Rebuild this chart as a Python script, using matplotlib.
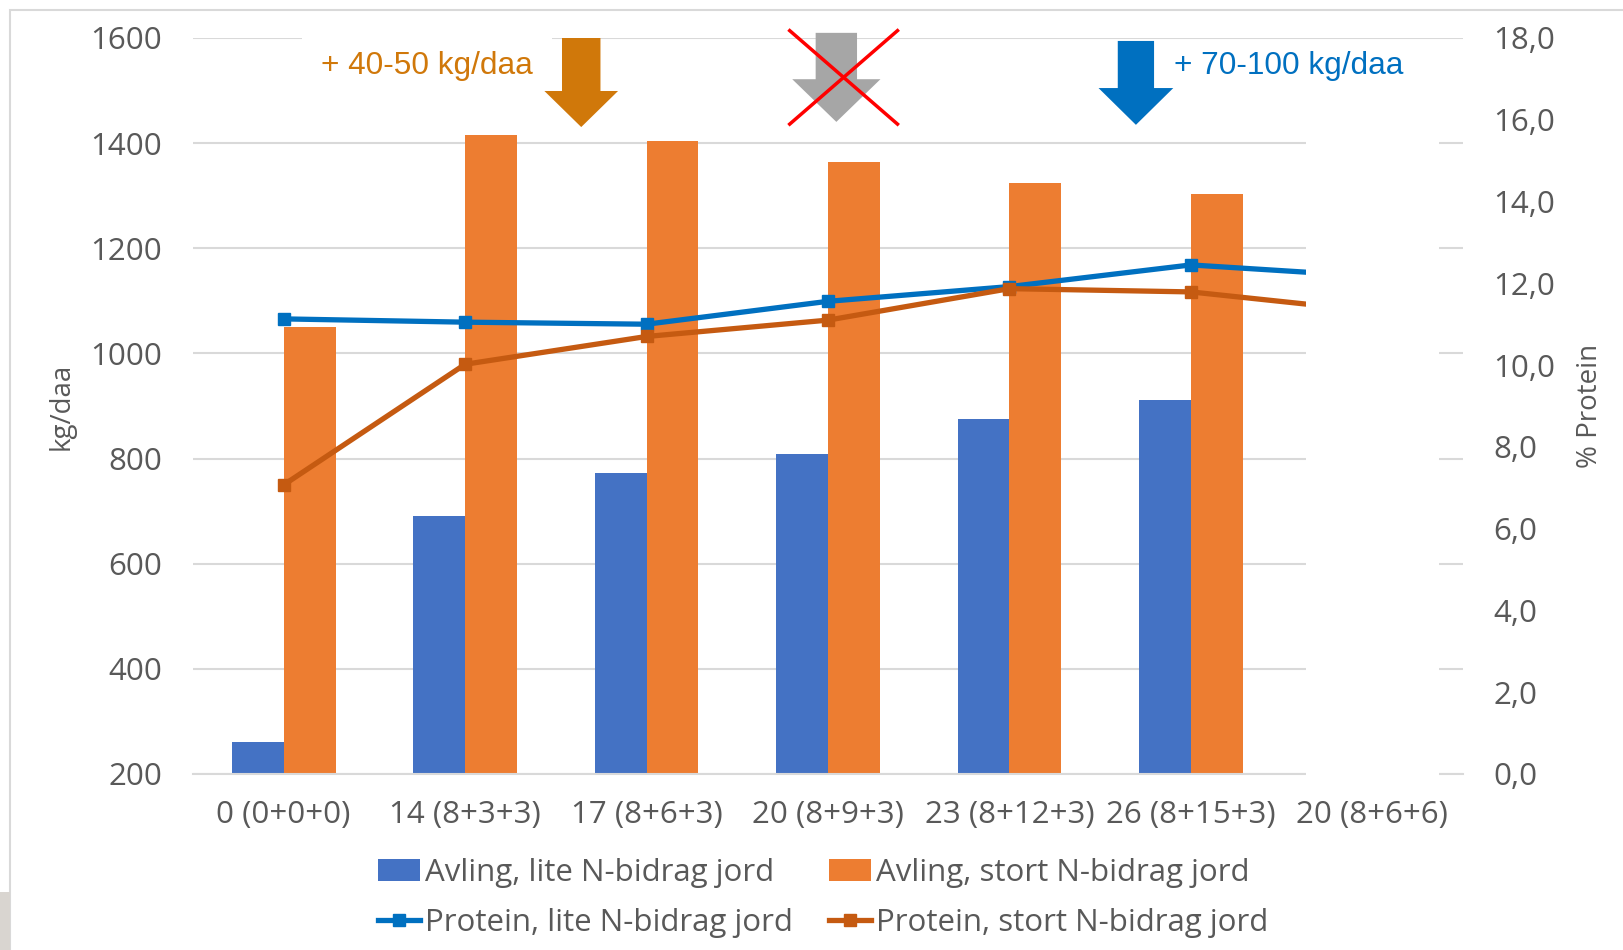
import matplotlib.pyplot as plt
import matplotlib.transforms as mtransforms
from matplotlib.patches import Polygon, Rectangle
import numpy as np

# ----------- Data ------------
categories = ["0 (0+0+0)", "14 (8+3+3)", "17 (8+6+3)", "20 (8+9+3)",
              "23 (8+12+3)", "26 (8+15+3)", "20 (8+6+6)"]
avling_lite = [260, 690, 772, 809, 876, 912, np.nan]
avling_stort = [1050, 1415, 1405, 1365, 1324, 1304, np.nan]
protein_lite = [11.13, 11.05, 11.0, 11.56, 11.92, 12.45, 12.17]
protein_stort = [7.07, 10.02, 10.7, 11.1, 11.87, 11.79, 11.32]

label_avling_lite = "Avling, lite N-bidrag jord"
label_avling_stort = "Avling, stort N-bidrag jord"
label_protein_lite = "Protein, lite N-bidrag jord"
label_protein_stort = "Protein, stort N-bidrag jord"

# ----------- Style ------------
TXT = '#595959'
GRID = '#D9D9D9'
C_BLUE_BAR = '#4472C4'
C_ORANGE_BAR = '#ED7D31'
C_BLUE_LINE = '#0070C0'
C_ORANGE_LINE = '#C55A11'
C_ANNOT_ORANGE = '#D0780A'
C_GREY_ARROW = '#A6A6A6'

plt.rcParams['font.family'] = ['Open Sans', 'DejaVu Sans']

fig = plt.figure(figsize=(16.24, 9.5), dpi=100)
ax = fig.add_axes([0.1188, 0.1853, 0.7821, 0.7747])
ax2 = ax.twinx()

x = np.arange(len(categories))
width = 0.286

ax.bar(x - width / 2, avling_lite, width=width, color=C_BLUE_BAR, label=label_avling_lite, zorder=2)
ax.bar(x + width / 2, avling_stort, width=width, color=C_ORANGE_BAR, label=label_avling_stort, zorder=2)

ax.set_xlim(-0.5, len(categories) - 0.5)
ax.set_ylim(200, 1600)
ax.set_yticks(np.arange(200, 1601, 200))
ax.yaxis.grid(True, color=GRID, lw=1.5, zorder=0)
ax.set_axisbelow(True)
for s in ['top', 'right', 'left']:
    ax.spines[s].set_visible(False)
ax.spines['bottom'].set_color(GRID)
ax.spines['bottom'].set_linewidth(1.5)
ax.set_xticks(x)
ax.set_xticklabels(categories)
ax.tick_params(axis='x', length=0, pad=19, labelsize=22.5, labelcolor=TXT)
ax.tick_params(axis='y', length=0, pad=22, labelsize=22.5, labelcolor=TXT)
ax.set_ylabel("kg/daa", fontsize=20, color=TXT, labelpad=11)

# protein lines on the right axis
l1, = ax2.plot(x, protein_lite, color=C_BLUE_LINE, lw=3.8, marker='s', ms=8, label=label_protein_lite)
l2, = ax2.plot(x, protein_stort, color=C_ORANGE_LINE, lw=3.8, marker='s', ms=8, label=label_protein_stort)
ax2.set_ylim(0, 18)
ax2.set_yticks(np.arange(0, 18.1, 2))
ax2.set_yticklabels([f"{v:.1f}".replace('.', ',') for v in np.arange(0, 18.1, 2)])
ax2.tick_params(axis='y', length=0, pad=22, labelsize=22.5, labelcolor=TXT)
for s in ax2.spines.values():
    s.set_visible(False)
ax2.set_ylabel("% Protein", fontsize=20, color=TXT, labelpad=15)

# white box hiding the last category
trans = mtransforms.blended_transform_factory(ax2.transData, ax2.transAxes)
ax2.add_patch(Rectangle((5.634, -0.02), 0.732, 0.95, transform=trans,
                        facecolor='white', edgecolor='none', clip_on=False, zorder=5))


# ----------- Annotations ------------
def down_arrow(axis, cx, top, head, tip, shaft_hw, head_hw, color):
    pts = [(cx - shaft_hw, top), (cx + shaft_hw, top), (cx + shaft_hw, head),
           (cx + head_hw, head), (cx, tip), (cx - head_hw, head), (cx - shaft_hw, head)]
    axis.add_patch(Polygon(pts, closed=True, transform=trans, facecolor=color,
                           edgecolor='none', clip_on=False, zorder=8))


down_arrow(ax2, 1.64, 1.0, 0.928, 0.879, 0.106, 0.203, C_ANNOT_ORANGE)
down_arrow(ax2, 3.046, 1.007, 0.944, 0.886, 0.114, 0.243, C_GREY_ARROW)
down_arrow(ax2, 4.697, 0.996, 0.932, 0.882, 0.1, 0.206, C_BLUE_LINE)

ax2.plot([2.789, 3.383], [1.01, 0.883], transform=trans, color='#FF0000', lw=2.5, clip_on=False, zorder=9)
ax2.plot([2.789, 3.383], [0.883, 1.01], transform=trans, color='#FF0000', lw=2.5, clip_on=False, zorder=9)

ax2.text(0.206, 0.962, "+ 40-50 kg/daa", transform=trans, color=C_ANNOT_ORANGE,
         fontsize=22.8, family=['Liberation Sans', 'DejaVu Sans'], va='center', ha='left', zorder=7,
         bbox=dict(boxstyle='square,pad=0.6', facecolor='white', edgecolor='none'))
ax2.text(4.909, 0.962, "+ 70-100 kg/daa", transform=trans, color=C_BLUE_LINE,
         fontsize=22.8, family=['Liberation Sans', 'DejaVu Sans'], va='center', ha='left', zorder=7)

# ----------- Legend ------------
bars_handles, _ = ax.get_legend_handles_labels()
handles = [bars_handles[0], l1, bars_handles[1], l2]
fig.legend(handles=handles, labels=[h.get_label() for h in handles],
           loc='center', bbox_to_anchor=(0.507, 0.055), ncol=2, frameon=False,
           fontsize=22.5, labelcolor=TXT, handlelength=1.33, handletextpad=0.17,
           columnspacing=1.17, labelspacing=0.65)

# frame around picture
fig.add_artist(Rectangle((10 / 1624, -0.1), 1.2, 1 - 10 / 950 + 0.1, transform=fig.transFigure,
                         facecolor='none', edgecolor=GRID, lw=1.5))
fig.add_artist(Rectangle((0, 0), 10 / 1624, 58 / 950, transform=fig.transFigure,
                         facecolor='#D9D5D0', edgecolor='none'))

fig.savefig("out.png", dpi=100)
